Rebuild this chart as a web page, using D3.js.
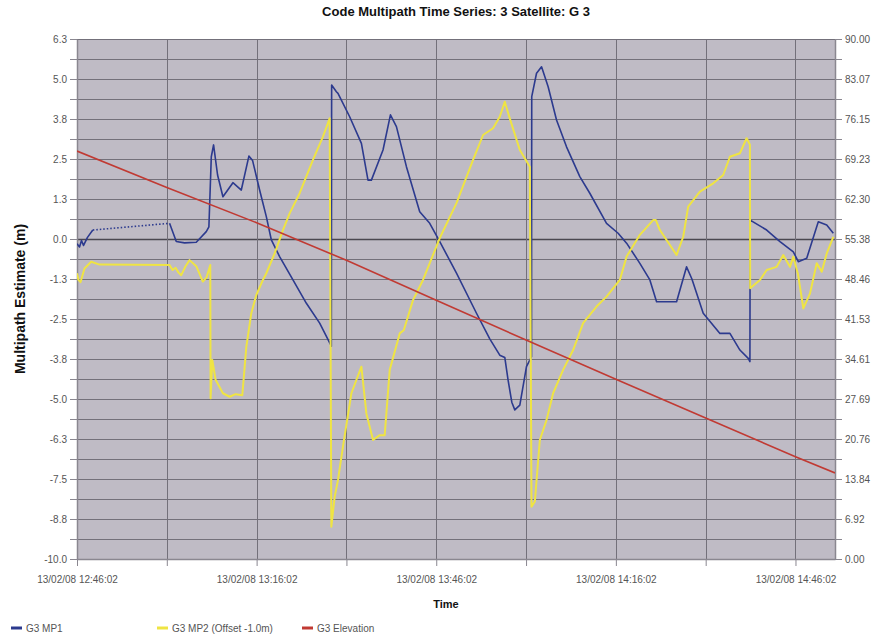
<!DOCTYPE html>
<html>
<head>
<meta charset="utf-8">
<script src="https://cdn.jsdelivr.net/npm/d3@7"></script>
<style>
  body { margin: 0; background: #fff; }
  text { font-family: "Liberation Sans", Arial, sans-serif; }
</style>
</head>
<body>
<svg id="chart" width="884" height="634"></svg>
<script>
// ---- data ---------------------------------------------------------------
const chartTitle = "Code Multipath Time Series: 3 Satellite: G 3";
const yTitle = "Multipath Estimate (m)";
const xTitle = "Time";

// epoch of the first sample; all series times are minutes after it
const startEpoch = [2008, 1, 13, 12, 46, 2];
const lastMinute = 126.6;

const leftTickValues = [-10, -8.75, -7.5, -6.25, -5, -3.75, -2.5, -1.25, 0, 1.25, 2.5, 3.75, 5, 6.25];
const leftTickLabels = ["-10.0", "-8.8", "-7.5", "-6.3", "-5.0", "-3.8", "-2.5", "-1.3", "0.0", "1.3", "2.5", "3.8", "5.0", "6.3"];
const rightTickLabels = ["0.00", "6.92", "13.84", "20.76", "27.69", "34.61", "41.53", "48.46", "55.38", "62.30", "69.23", "76.15", "83.07", "90.00"];
const xTickMinutes = [0, 15, 30, 45, 60, 75, 90, 105, 120];
const xLabelMinutes = [0, 30, 60, 90, 120];

const seriesNames = ["G3 MP1", "G3 MP2 (Offset -1.0m)", "G3 Elevation"];

const mp1Min = [0, 0.42, 0.75, 1.09, 1.75, 2.64, 15.46, 16.58, 17.97, 19.92, 21.59, 22.03, 22.43, 22.81, 23.48, 24.37,
  26.04, 27.44, 28.71, 29.33, 30.50, 31.62, 32.46, 33.84, 36.07, 38.31, 40.53, 42.48, 42.53, 43.32, 43.59, 45.54,
  47.50, 48.60, 49.17, 51.11, 52.35, 53.35, 55.02, 57.24, 58.91, 60.59, 63.38, 66.72, 68.94, 70.61, 71.45, 72.00,
  72.62, 73.12, 73.96, 75.07, 75.91, 75.95, 76.75, 77.59, 78.69, 80.09, 81.76, 83.98, 85.65, 88.44, 90.38, 91.79,
  94.01, 95.68, 96.80, 100.14, 101.81, 102.7, 104.59, 107.38, 109.05, 110.72, 112.11, 112.39, 112.43, 115.19,
  117.41, 119.64, 120.47, 121.88, 123.81, 125.22, 126.32];
const mp1Val = [-0.15, -0.25, -0.05, -0.20, 0.05, 0.28, 0.49, -0.08, -0.12, -0.10, 0.23, 0.38, 2.57, 2.94, 2.0, 1.32,
  1.76, 1.53, 2.59, 2.45, 1.53, 0.70, -0.03, -0.55, -1.28, -2.01, -2.63, -3.35, 4.81, 4.60, 4.55, 3.82,
  2.99, 1.84, 1.84, 2.78, 3.88, 3.51, 2.26, 0.85, 0.49, -0.08, -1.07, -2.32, -3.12, -3.63, -3.70, -4.41,
  -5.1, -5.34, -5.19, -3.99, -3.68, 4.45, 5.18, 5.38, 4.76, 3.72, 2.88, 1.95, 1.43, 0.49, 0.18, -0.13,
  -0.76, -1.28, -1.96, -1.96, -0.87, -1.25, -2.32, -2.95, -2.95, -3.47, -3.73, -3.83, 0.59, 0.28,
  -0.08, -0.40, -0.71, -0.60, 0.54, 0.44, 0.18];

const mp2Min = [0, 0.25, 0.58, 1.25, 2.37, 3.76, 15.46, 15.96, 16.46, 16.96, 17.41, 18.13, 18.80, 19.92, 21.02, 21.64,
  22.26, 22.31, 22.60, 23.15, 24.37, 25.49, 26.49, 27.61, 28.28, 29.11, 29.95, 31.05, 31.62, 33.01, 34.40, 35.51,
  37.19, 39.41, 41.08, 42.20, 42.48, 43.04, 43.59, 44.42, 45.83, 47.50, 48.33, 49.44, 50.56, 51.39, 52.23, 53.90,
  54.57, 56.12, 57.79, 60.59, 63.38, 66.15, 67.82, 69.49, 70.61, 71.45, 72.28, 73.96, 75.63, 75.91, 76.47, 77.30,
  78.42, 79.52, 81.19, 82.86, 84.53, 86.77, 88.44, 90.67, 91.79, 94.01, 96.23, 96.68, 97.35, 100.14, 101.25,
  102.08, 104.04, 106.26, 107.93, 109.05, 110.72, 111.84, 112.39, 112.43, 114.07, 115.19, 116.86, 117.96, 119.08,
  119.64, 120.42, 121.31, 122.43, 123.55, 124.39, 125.22, 126.32];
const mp2Val = [-1.07, -1.28, -1.35, -0.92, -0.71, -0.80, -0.81, -0.97, -0.90, -1.05, -1.13, -0.85, -0.66, -0.85, -1.33, -1.20,
  -0.81, -4.98, -3.78, -4.4, -4.82, -4.93, -4.85, -4.88, -3.37, -2.32, -1.75, -1.28, -1.07, -0.45, 0.28, 0.80,
  1.43, 2.47, 3.20, 3.77, -8.99, -8.05, -7.53, -6.49, -4.82, -3.99, -5.45, -6.28, -6.13, -6.13, -4.09, -2.95,
  -2.85, -1.91, -1.28, 0.03, 1.12, 2.47, 3.25, 3.46, 3.82, 4.29, 3.77, 2.78, 2.26, -8.37, -8.2, -6.28,
  -5.66, -4.82, -4.09, -3.47, -2.63, -2.11, -1.80, -1.28, -0.55, 0.13, 0.59, 0.59, 0.28, -0.50, 0.07,
  1.01, 1.48, 1.74, 2.0, 2.57, 2.68, 3.15, 2.95, -1.54, -1.28, -0.97, -0.87, -0.50, -0.87,
  -0.55, -1.1, -2.17, -1.70, -0.76, -1.02, -0.45, 0.07];

const elevMin = [0, 15, 30, 45, 60, 75, 90, 105, 120, 126.6];
const elevDeg = [70.6, 64.3, 58.2, 51.7, 44.8, 37.9, 31.1, 24.4, 17.7, 14.9];

// ---- layout ---------------------------------------------------------------
const margin = { top: 39, right: 49, bottom: 75, left: 77 };
const width = 884 - margin.left - margin.right;
const height = 634 - margin.top - margin.bottom;

const colors = { mp1: "#2c3a8e", mp2: "#efe443", elev: "#c13a33" };
const t0 = new Date(startEpoch[0], startEpoch[1], startEpoch[2], startEpoch[3], startEpoch[4], startEpoch[5]);
const at = m => new Date(t0.getTime() + m * 60000);
const fmtTime = d3.timeFormat("%d/%m/%y %H:%M:%S");

const x = d3.scaleTime().domain([t0, at(lastMinute)]).range([0, width]);
const y = d3.scaleLinear().domain([-10, 6.25]).range([height, 0]);
const yR = d3.scaleLinear().domain([0, 90]).range([height, 0]);

const svg = d3.select("#chart");
const g = svg.append("g").attr("transform", `translate(${margin.left},${margin.top})`);

// plot area
g.append("rect").attr("width", width).attr("height", height).attr("fill", "#bfbbc5");

// gridlines: every half step horizontally, every 15 minutes vertically
const halfSteps = d3.range(leftTickValues.length * 2 - 1).map(i => -10 + i * 0.625);
g.append("g").selectAll("line").data(halfSteps).join("line")
  .attr("x1", 0).attr("x2", width)
  .attr("y1", d => Math.round(y(d)) + 0.5).attr("y2", d => Math.round(y(d)) + 0.5)
  .attr("stroke", d => Math.abs(d) < 1e-9 ? "#4a4750" : "#73707a")
  .attr("stroke-width", d => Math.abs(d) < 1e-9 ? 1.6 : 1.2);
g.append("g").selectAll("line").data(xTickMinutes.slice(1)).join("line")
  .attr("x1", d => Math.round(x(at(d))) + 0.5).attr("x2", d => Math.round(x(at(d))) + 0.5)
  .attr("y1", 0).attr("y2", height)
  .attr("stroke", "#73707a").attr("stroke-width", 1);

// axes
function styleAxis(sel) {
  sel.select(".domain").attr("stroke", "#8a8790").attr("stroke-width", 1.5);
  sel.selectAll(".tick line").attr("stroke", "#8a8790");
  sel.selectAll(".tick text").attr("fill", "#555").attr("font-size", 10)
    .attr("font-family", "'Liberation Sans', Arial, sans-serif");
}
const leftLabelOf = new Map(leftTickValues.map((v, i) => [v, leftTickLabels[i]]));
g.append("g")
  .call(d3.axisLeft(y).tickValues(halfSteps).tickSize(7).tickSizeOuter(0)
    .tickFormat(d => leftLabelOf.get(d) || ""))
  .call(styleAxis);

const rightHalf = d3.range(rightTickLabels.length * 2 - 1).map(i => i * 90 / 26);
g.append("g").attr("transform", `translate(${width},0)`)
  .call(d3.axisRight(yR).tickValues(rightHalf).tickSize(7).tickSizeOuter(0)
    .tickFormat((d, i) => i % 2 === 0 ? rightTickLabels[i / 2] : ""))
  .call(styleAxis);

g.append("g").attr("transform", `translate(0,${height})`)
  .call(d3.axisBottom(x).tickValues(xTickMinutes.map(at)).tickSize(7).tickSizeOuter(0)
    .tickFormat((d, i) => xLabelMinutes.includes(xTickMinutes[i]) ? fmtTime(d) : ""))
  .call(styleAxis)
  .call(s => s.selectAll(".tick text").attr("dy", "1.35em"));

// series
g.append("clipPath").attr("id", "plotClip").append("rect").attr("width", width).attr("height", height);
const plot = g.append("g").attr("clip-path", "url(#plotClip)");

const zip = (ts, vs) => ts.map((m, i) => ({ t: at(m), v: vs[i], m }));
const mp1 = zip(mp1Min, mp1Val);
const mp2 = zip(mp2Min, mp2Val);
const elev = zip(elevMin, elevDeg);

// MP1 has a data gap; the bridge across the missing epochs is drawn dotted
const gapLimit = 5;
const lineL = d3.line().x(d => x(d.t)).y(d => y(d.v));
const runs = [[mp1[0]]];
const bridges = [];
for (let i = 1; i < mp1.length; i++) {
  if (mp1[i].m - mp1[i - 1].m > gapLimit) { bridges.push([mp1[i - 1], mp1[i]]); runs.push([]); }
  runs[runs.length - 1].push(mp1[i]);
}
plot.selectAll(".mp1run").data(runs).join("path")
  .attr("d", lineL).attr("fill", "none").attr("stroke", colors.mp1)
  .attr("stroke-width", 1.6).attr("stroke-linejoin", "round");
plot.selectAll(".mp1gap").data(bridges).join("path")
  .attr("d", lineL).attr("fill", "none").attr("stroke", colors.mp1)
  .attr("stroke-width", 1.6).attr("stroke-dasharray", "1.5,2");

plot.append("path").datum(mp2).attr("d", lineL).attr("fill", "none")
  .attr("stroke", colors.mp2).attr("stroke-width", 2).attr("stroke-linejoin", "round");

plot.append("path").datum(elev)
  .attr("d", d3.line().x(d => x(d.t)).y(d => yR(d.v)))
  .attr("fill", "none").attr("stroke", colors.elev).attr("stroke-width", 1.6);

// titles
svg.append("text").attr("x", margin.left + width / 2).attr("y", 16)
  .attr("text-anchor", "middle").attr("font-weight", "bold").attr("font-size", 13)
  .attr("fill", "#111").text(chartTitle);
svg.append("text").attr("transform", `translate(25,${margin.top + height / 2}) rotate(-90)`)
  .attr("text-anchor", "middle").attr("font-weight", "bold").attr("font-size", 14)
  .attr("fill", "#111").text(yTitle);
svg.append("text").attr("x", margin.left + width / 2 - 10).attr("y", 608)
  .attr("text-anchor", "middle").attr("font-weight", "bold").attr("font-size", 11)
  .attr("fill", "#111").text(xTitle);

// legend
const legendX = [11, 157, 302];
const legendColors = [colors.mp1, colors.mp2, colors.elev];
const leg = svg.append("g").attr("transform", "translate(0,628)");
const items = leg.selectAll("g").data(seriesNames).join("g")
  .attr("transform", (d, i) => `translate(${legendX[i]},0)`);
items.append("line").attr("x1", 0).attr("x2", 11).attr("y1", 0).attr("y2", 0)
  .attr("stroke", (d, i) => legendColors[i]).attr("stroke-width", 3);
items.append("text").attr("x", 15).attr("y", 3.5).attr("font-size", 10)
  .attr("fill", "#555").text(d => d);
</script>
</body>
</html>
